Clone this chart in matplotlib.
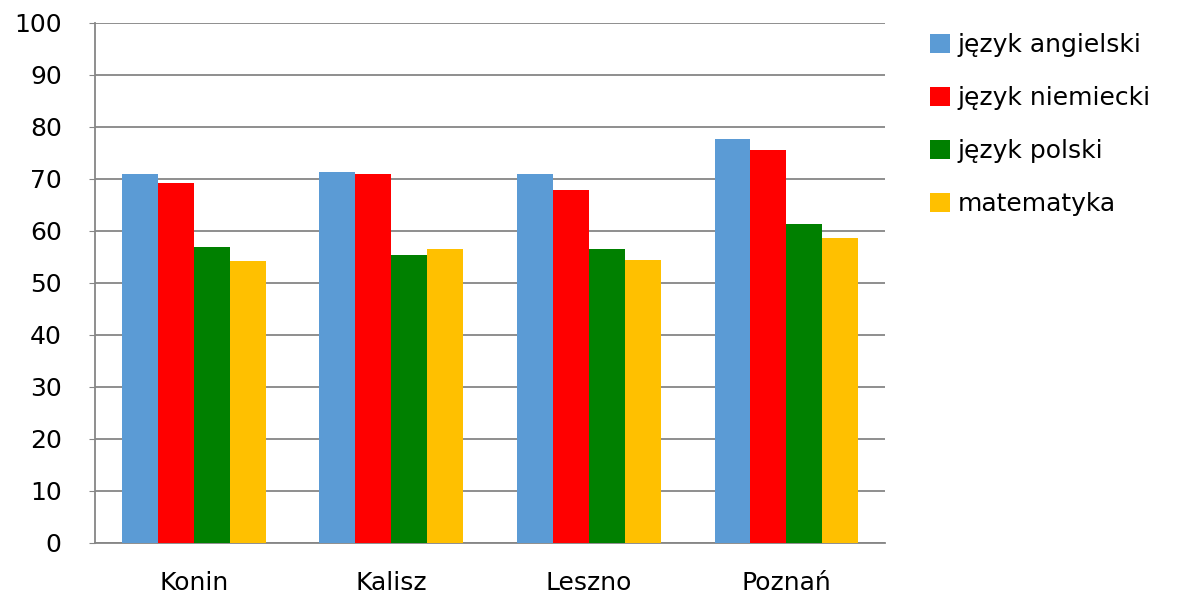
import numpy as np
import matplotlib
matplotlib.use("Agg")
import matplotlib.pyplot as plt

# średnie wyniki (%) wg miasta i przedmiotu
cities = ["Konin", "Kalisz", "Leszno", "Poznań"]
subjects = ["język angielski", "język niemiecki", "język polski", "matematyka"]
angielski = [71.0, 71.4, 71.0, 77.6]
niemiecki = [69.3, 71.0, 67.8, 75.5]
polski = [57.0, 55.4, 56.6, 61.4]
matematyka = [54.3, 56.6, 54.5, 58.7]
yticks = [0, 10, 20, 30, 40, 50, 60, 70, 80, 90, 100]

series = [angielski, niemiecki, polski, matematyka]
colors = ["#5B9BD5", "#FF0000", "#008000", "#FFC000"]

plt.rcParams['font.family'] = ['DejaVu Sans']

fig = plt.figure(figsize=(11.82, 5.94), dpi=100)
ax = fig.add_axes([0.0804, 0.0859, 0.6685, 0.8755])

x = np.arange(len(cities))
w = 0.182
for i, (vals, col) in enumerate(zip(series, colors)):
    ax.bar(x + (i - 1.5) * w, vals, w, color=col, label=subjects[i], zorder=3)

# ── osie i siatka ─────────────────────────────────────────────
ax.set_xlim(-0.5, len(cities) - 0.5)
ax.set_ylim(0, 100)
ax.set_yticks(yticks)
ax.set_xticks(x)
ax.set_xticklabels(cities)
ax.yaxis.grid(True, color="#868686", linewidth=1.3, zorder=0)
for s in ["top", "right"]:
    ax.spines[s].set_visible(False)
for s in ["left", "bottom"]:
    ax.spines[s].set_color("#868686")
    ax.spines[s].set_linewidth(1.3)
ax.tick_params(axis="y", length=4, color="#868686", pad=20, labelsize=18)
ax.tick_params(axis="x", length=0, pad=20, labelsize=18)

fig.legend(loc="upper left", bbox_to_anchor=(0.768, 0.982), frameon=False,
           fontsize=18, handlelength=0.8, handleheight=0.8,
           handletextpad=0.3, labelspacing=1.16)

fig.savefig("out.png", dpi=100)
